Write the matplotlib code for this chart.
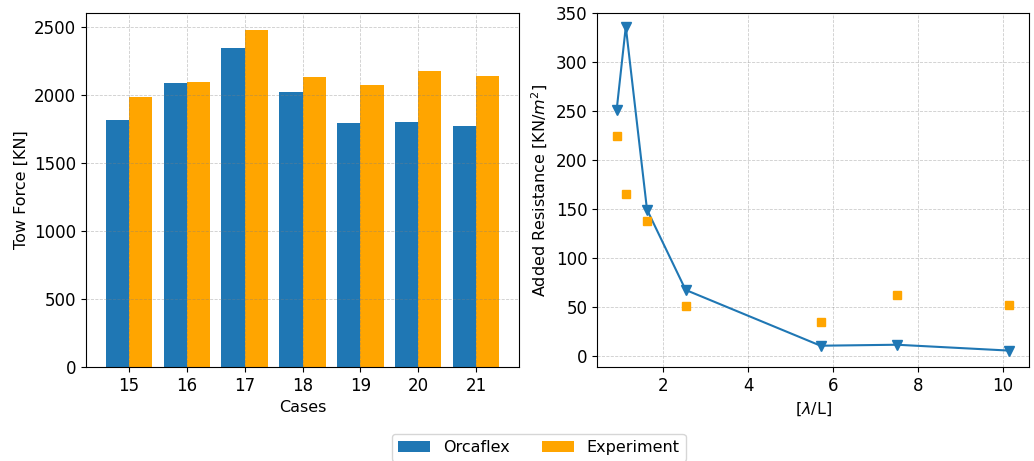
import numpy as np
import matplotlib
matplotlib.use("Agg")
import matplotlib.pyplot as plt

# tow force per case
cases = ["15", "16", "17", "18", "19", "20", "21"]
orcaflex_force = [1819, 2092, 2348, 2026, 1797, 1802, 1777]
experiment_force = [1989, 2100, 2483, 2136, 2073, 2181, 2141]

# added resistance vs wavelength ratio
wave_ratio = [0.905, 1.12, 1.62, 2.53, 5.71, 7.51, 10.16]
orcaflex_res = [251, 336, 149, 67, 10, 11, 5]
experiment_res = [224, 165, 137.5, 50.7, 34.6, 61.7, 51.4]

blue = "#1f77b4"
orange = "orange"

plt.rcParams["font.size"] = 11.5
plt.rcParams["xtick.labelsize"] = 12
plt.rcParams["ytick.labelsize"] = 12

fig = plt.figure(figsize=(10.34, 4.61), dpi=100)
ax1 = fig.add_axes([0.0832, 0.204, 0.4188, 0.768])
ax2 = fig.add_axes([0.5774, 0.204, 0.4178, 0.768])

x = np.arange(len(cases))
w = 0.4
b1 = ax1.bar(x - w / 2, orcaflex_force, w, color=blue, label="Orcaflex")
b2 = ax1.bar(x + w / 2, experiment_force, w, color=orange, label="Experiment")
ax1.set_xticks(x)
ax1.set_xticklabels(cases)
ax1.set_xlabel("Cases")
ax1.set_ylabel("Tow Force [KN]")
ax1.set_axisbelow(False)
ax1.grid(True, linestyle="--", color="gray", alpha=0.4, linewidth=0.6)

ax2.plot(wave_ratio, orcaflex_res, marker="v", color=blue, markersize=7)
ax2.plot(wave_ratio, experiment_res, "s", color=orange, markersize=6)
ax2.set_xlabel(r"[$\lambda$/L]")
ax2.set_ylabel(r"Added Resistance [KN/$m^2$]")
ax2.set_ylim(-11.7, 350)
ax2.grid(True, linestyle="--", color="gray", alpha=0.4, linewidth=0.6)

fig.legend(handles=[b1, b2], loc="upper center", bbox_to_anchor=(0.521, 0.059),
           borderaxespad=0, ncol=2, fontsize=11.5, columnspacing=2.0)

fig.savefig("out.png", dpi=100)
